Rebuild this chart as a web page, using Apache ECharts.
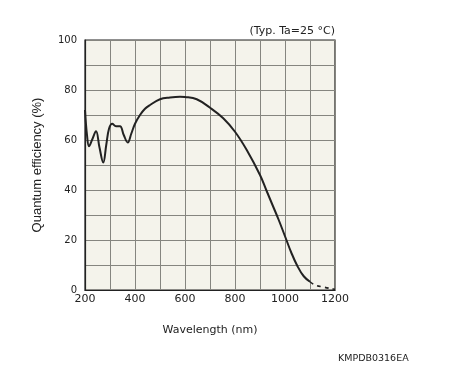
<!DOCTYPE html>
<html>
<head>
<meta charset="utf-8">
<script src="https://cdn.jsdelivr.net/npm/echarts@6/dist/echarts.min.js"></script>
<style>html,body{margin:0;padding:0;background:#fff;}#c{width:462px;height:385px;}</style>
</head>
<body>
<div id="c"></div>
<script>
// Wavelength (nm) and quantum efficiency (%)
var solidWavelength = [200,208,216,228,244,258,273,285,296,309,324,340,355,371,385,400,420,440,460,500,540,580,600,647,700,753,800,847,900,925,950,975,1000,1025,1050,1075,1100];
var solidQE =         [72, 62, 57.5,60, 63.5,57, 51, 58, 64.5,66.5,65.5,65.5,62, 59, 62.5,66.5,70, 72.5,74, 76.3,77, 77.3,77.2,76.3,72.9,68.7,63.3,56, 46, 40, 34, 28, 21.5,15, 9.5,5.5,3.3];
var dashedWavelength = [1100,1120,1153,1193,1200];
var dashedQE =         [3.3, 2,   1.2, 0.4, 0.3];
var xTicks = [200,400,600,800,1000,1200];
var yTicks = [0,20,40,60,80,100];

function pairs(xs, ys){ return xs.map(function(x,i){return [x, ys[i]];}); }

var chart = echarts.init(document.getElementById('c'), null, {renderer:'canvas'});
var font = 'DejaVu Sans';
chart.setOption({
  animation:false,
  backgroundColor:'#fff',
  title:[
    {text:'(Typ. Ta=25 °C)', right:122, top:21, textStyle:{fontFamily:font,fontSize:11,fontWeight:'normal',color:'#222'}},
    {text:'KMPDB0316EA', left:333, top:349, textStyle:{fontFamily:font,fontSize:9.5,fontWeight:'normal',color:'#222'}}
  ],
  grid:{left:85, right:127, top:40, bottom:95, show:true, backgroundColor:'#f4f3eb', borderColor:'#222', borderWidth:1.2},
  xAxis:{
    type:'value', min:200, max:1200, interval:100,
    name:'Wavelength (nm)', nameLocation:'middle', nameGap:35,
    nameTextStyle:{fontFamily:font,fontSize:11,color:'#222'},
    axisLine:{show:true,lineStyle:{color:'#222',width:1.2}},
    axisTick:{show:false},
    axisLabel:{fontFamily:font,fontSize:11,color:'#222',margin:4,
      formatter:function(v){return xTicks.indexOf(v)>=0?String(v):'';}},
    splitLine:{show:true,lineStyle:{color:'#85857f',width:1}}
  },
  yAxis:{
    type:'value', min:0, max:100, interval:10,
    name:'Quantum efficiency (%)', nameLocation:'middle', nameGap:41,
    nameTextStyle:{fontFamily:'Liberation Sans',fontSize:13,color:'#222'},
    axisLine:{show:true,lineStyle:{color:'#222',width:1.2}},
    axisTick:{show:false},
    axisLabel:{fontFamily:font,fontSize:10,color:'#222',margin:8,
      formatter:function(v){return yTicks.indexOf(v)>=0?String(v):'';}},
    splitLine:{show:true,lineStyle:{color:'#85857f',width:1}}
  },
  series:[
    {type:'line', data:pairs(solidWavelength, solidQE), smooth:0.4, showSymbol:false,
      lineStyle:{color:'#222',width:2}},
    {type:'line', data:pairs(dashedWavelength, dashedQE), smooth:0.4, showSymbol:false,
      lineStyle:{color:'#222',width:1.6,type:[4,4]}}
  ]
});
</script>
</body>
</html>
